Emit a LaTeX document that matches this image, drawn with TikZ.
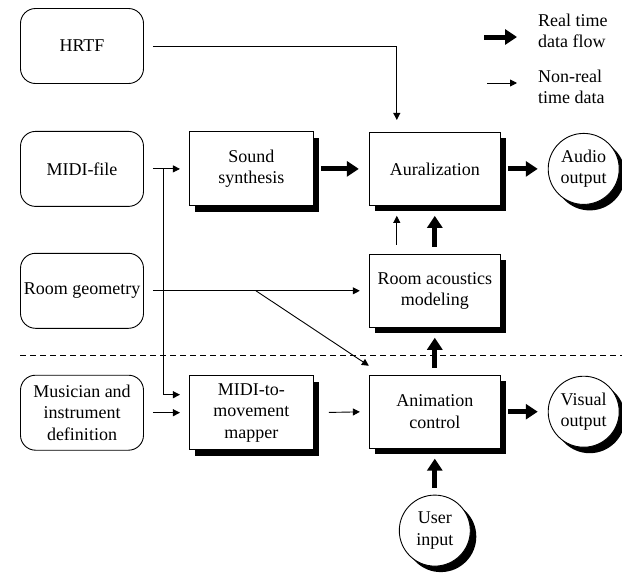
\documentclass[tikz,border=0pt]{standalone}
\usepackage{fontspec}
\setmainfont{Liberation Serif}
\usetikzlibrary{positioning,arrows.meta,shadows}

\begin{document}
\begin{tikzpicture}[
    x=1pt, y=-1pt,
    font=\fontsize{18}{21.5}\selectfont,
    shade/.style={drop shadow={shadow xshift=6pt, shadow yshift=-6pt, fill=black, opacity=1}},
    rbox/.style={
      rectangle, rounded corners=15pt, draw=black, line width=0.9pt,
      minimum width=123pt, minimum height=75pt, inner sep=1pt,
      align=center, fill=white
    },
    sbox/.style={
      rectangle, draw=black, line width=0.9pt, fill=white, shade,
      minimum width=124pt, minimum height=74pt, inner sep=2pt, align=center
    },
    wbox/.style={sbox, minimum width=131pt, minimum height=73pt},
    port/.style={
      circle, draw=black, line width=0.9pt, fill=white, shade,
      minimum size=71pt, inner sep=0pt, align=center
    },
    fatarrow/.style={line width=5pt, -{Triangle[length=12pt,width=15pt]},
      shorten <=7pt, shorten >=10pt},
    thinarrow/.style={line width=0.9pt, -{Triangle[length=7pt,width=7pt]},
      shorten <=9pt, shorten >=9pt}
  ]
  \useasboundingbox (0,0) rectangle (622,573);

  % Inputs (left column)
  \node[rbox] (hrtf) at (82,46) {HRTF};
  \node[rbox, below=47pt of hrtf] (midi) {MIDI-file};
  \node[rbox, below=46pt of midi] (roomgeo) {Room geometry};
  \node[rbox, below=46pt of roomgeo] (musician) {Musician and\\instrument\\definition};

  % Processing blocks
  \node[sbox, right=45pt of midi] (synth) {Sound\\synthesis};
  \node[wbox, right=55pt of synth] (aur) {Auralization};
  \node[wbox, below=48pt of aur] (room) {Room acoustics\\modeling};
  \node[wbox, below=47pt of room] (anim) {Animation\\control};
  \node[sbox, right=45pt of musician] (mapper) {MIDI-to-\\movement\\mapper};

  % Outputs and user
  \node[port, right=47pt of aur] (audio) {Audio\\output};
  \node[port, right=47pt of anim] (visual) {Visual\\output};
  \node[port, below=46pt of anim] (user) {User\\input};

  % Legend
  \coordinate (fatA) at (484,37);
  \coordinate (fatB) at (517,37);
  \coordinate (thinA) at (487,83);
  \coordinate (thinB) at (517,83);
  \node[anchor=west, align=left, inner sep=0pt] (realtime) at (538,31) {Real time\\data flow};
  \node[anchor=west, align=left, inner sep=0pt] (nonreal) at (538,87) {Non-real\\time data};
  \draw[fatarrow, shorten <=0pt, shorten >=0pt] (fatA) -- (fatB);
  \draw[thinarrow, shorten <=0pt, shorten >=0pt] (thinA) -- (thinB);

  % Real/non-real boundary
  \coordinate (dashL) at ([yshift=-27pt]roomgeo.south west);
  \coordinate (dashR) at (dashL -| 622,0);
  \draw[line width=0.9pt, dash pattern=on 6pt off 4pt] (dashL) -- (dashR);

  % Non-real time data
  \draw[thinarrow, shorten >=12pt] (hrtf.east) -| ([xshift=-38pt]aur.north);
  \draw[thinarrow] (midi.east) -- (midi.east -| synth.west);
  \coordinate (branch) at ([xshift=19pt]midi.east);
  \draw[thinarrow, shorten <=0pt] (branch) |- ([yshift=18pt]mapper.west);
  \draw[thinarrow] (roomgeo.east) -- (roomgeo.east -| room.west);
  \coordinate (split) at ([xshift=112pt]roomgeo.east);
  \draw[thinarrow, shorten <=0pt, shorten >=0pt] (split) -- ([yshift=9pt]anim.north west);
  \draw[thinarrow] (musician.east) -- (mapper.west);
  \draw[thinarrow, shorten <=15pt] (mapper.east) -- (anim.west);
  \draw[thinarrow, shorten >=10pt] ([xshift=-38pt]room.north) -- ([xshift=-38pt]aur.south);

  % Real time data flow
  \draw[fatarrow] (synth.east) -- (aur.west);
  \draw[fatarrow] (aur.east) -- (audio.west);
  \draw[fatarrow] (room) -- (aur);
  \draw[fatarrow] (anim) -- (room);
  \draw[fatarrow] (anim.east) -- (visual.west);
  \draw[fatarrow] (user) -- (anim);

\end{tikzpicture}
\end{document}
